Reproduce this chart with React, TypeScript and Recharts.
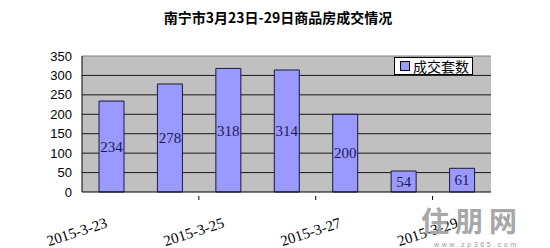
import React from 'react';
import { BarChart, Bar, XAxis, YAxis, CartesianGrid, LabelList, ReferenceLine } from 'recharts';

const dates = ['2015-3-23', '2015-3-24', '2015-3-25', '2015-3-26', '2015-3-27', '2015-3-28', '2015-3-29'];
const deals = [234, 278, 318, 314, 200, 54, 61];
const yTicks = [0, 50, 100, 150, 200, 250, 300, 350];
const seriesName = '成交套数';

const data = dates.map((d, i) => ({ date: d, value: deals[i] }));

const BAND = (491 - 82) / dates.length;

const DateTick = (props: any) => {
    const { x, y, payload, index } = props;
    const tx = x - 3;
    const ty = y + 27;
    return (
        <g>
            {index > 0 && (
                <line x1={x - BAND / 2} y1={y} x2={x - BAND / 2} y2={y - 4} stroke="#000" />
            )}
            <text
                x={tx}
                y={ty}
                textAnchor="end"
                transform={`rotate(-18, ${tx}, ${ty})`}
                fontFamily="'Liberation Serif', serif"
                fontSize={15}
                fill="#000"
            >
                {payload.value}
            </text>
        </g>
    );
};

export default function App() {
    return (
        <div style={{ position: 'absolute', left: 0, top: 0, width: 550, height: 248, background: '#fff' }}>
            <div style={{
                position: 'absolute', left: 0, top: 7, width: 556, textAlign: 'center',
                fontFamily: "'Noto Sans CJK SC', sans-serif", fontWeight: 'bold', fontSize: 14, lineHeight: '20px', color: '#000'
            }}>
                南宁市3月23日-29日商品房成交情况
            </div>
            <BarChart width={550} height={248} data={data} margin={{ top: 56, right: 59, bottom: 6, left: 0 }} barSize={25}>
                <CartesianGrid
                    horizontal
                    vertical={false}
                    fill="#c0c0c0"
                    stroke="#1a1a1a"
                    horizontalValues={[50, 100, 150, 200, 250, 300]}
                />
                <ReferenceLine y={350} stroke="#808080" />
                <XAxis
                    dataKey="date"
                    height={50}
                    interval={1}
                    tickLine={false}
                    axisLine={{ stroke: '#000' }}
                    tick={<DateTick />}
                />
                <YAxis
                    width={82}
                    domain={[0, 350]}
                    ticks={yTicks}
                    interval={0}
                    tickLine={false}
                    tickSize={0}
                    tickMargin={10}
                    axisLine={{ stroke: '#000' }}
                    tick={{ fill: '#000', fontSize: 13, fontFamily: "'Liberation Sans', Arial, sans-serif" }}
                />
                <Bar dataKey="value" name={seriesName} fill="#9999ff" stroke="#1a1a3a" strokeWidth={1} isAnimationActive={false}>
                    <LabelList
                        dataKey="value"
                        position="center"
                        fill="#1c1c50"
                        fontSize={15}
                        fontFamily="'Liberation Serif', serif"
                    />
                </Bar>
            </BarChart>
            {/* legend box */}
            <div style={{
                position: 'absolute', left: 394, top: 57, display: 'flex', alignItems: 'center', background: '#fff',
                border: '1px solid #000', height: 16, padding: '0 3px 0 5px',
                fontFamily: "'Noto Sans CJK SC', sans-serif", fontSize: 14, lineHeight: '16px'
            }}>
                <span style={{ display: 'inline-block', width: 8, height: 8, background: '#9999ff', border: '1px solid #000', marginRight: 3 }} />
                {seriesName}
            </div>
            {/* watermark */}
            <div style={{
                position: 'absolute', left: 421, top: 206, fontFamily: "'Noto Sans CJK SC', sans-serif",
                fontSize: 28, fontWeight: 'bold', color: '#a8a8a8', letterSpacing: 6, lineHeight: '28px'
            }}>
                住朋网
            </div>
            <div style={{
                position: 'absolute', left: 434, top: 241, fontFamily: "'Liberation Sans', sans-serif",
                fontSize: 7, color: '#999', letterSpacing: 2.6, lineHeight: '7px'
            }}>
                www.zp365.com
            </div>
        </div>
    );
}
